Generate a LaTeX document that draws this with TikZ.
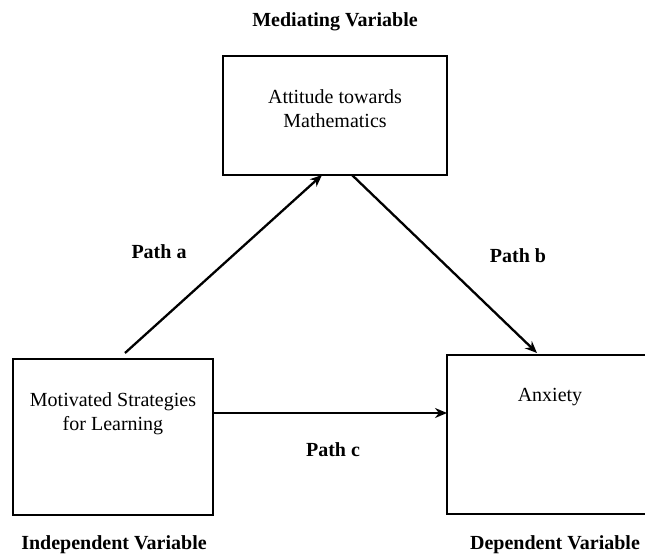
\documentclass[tikz,border=0pt]{standalone}
\usepackage{fontspec}
\setmainfont{Liberation Serif}
\usetikzlibrary{arrows.meta,calc}
\begin{document}
\begin{tikzpicture}[x=1pt,y=-1pt,
 box/.style={draw, line width=1.3pt, rectangle, inner sep=0pt},
 lbl/.style={font=\fontsize{20}{24}\selectfont, align=center, inner sep=0pt},
 blbl/.style={font=\fontsize{20}{24}\selectfont\bfseries, inner sep=0pt},
 arr/.style={line width=2.3pt, -{Stealth[length=12pt,width=10pt]}}]
\useasboundingbox[fill=white] (0,0) rectangle (645,556);
% boxes
\node[box, minimum width=224pt, minimum height=119pt] (top) at (335,115.5) {};
\node[box, minimum width=200pt, minimum height=156pt] (left) at (113,437) {};
\node[box, minimum width=215pt, minimum height=159pt] (right) at (554.5,434.5) {};
% box texts
\node[lbl] (toptext) at (335,109) {Attitude towards\\Mathematics};
\node[lbl] (lefttext) at (113,414) {Motivated Strategies\\for Learning};
\node[lbl] (righttext) at (550,397) {Anxiety};
% headings
\node[blbl] (med) at (335,22) {Mediating Variable};
\node[blbl] (ind) at (114,545) {Independent Variable};
\node[blbl] (dep) at (555,545) {Dependent Variable};
% connector end points
\coordinate (aS) at (125,353);
\coordinate (aE) at (322,175);
\coordinate (bS) at (352,175);
\coordinate (bE) at (537,353);
\coordinate (cS) at (213,413);
\coordinate (cE) at (447,413);
\draw[arr] (aS) -- (aE);
\draw[arr] (bS) -- (bE);
\draw[arr] (cS) -- (cE);
% path labels
\node[blbl] (pa) at (159,252) {Path a};
\node[blbl] (pb) at (518,256) {Path b};
\node[blbl] (pc) at (333,450) {Path c};
\end{tikzpicture}
\end{document}
